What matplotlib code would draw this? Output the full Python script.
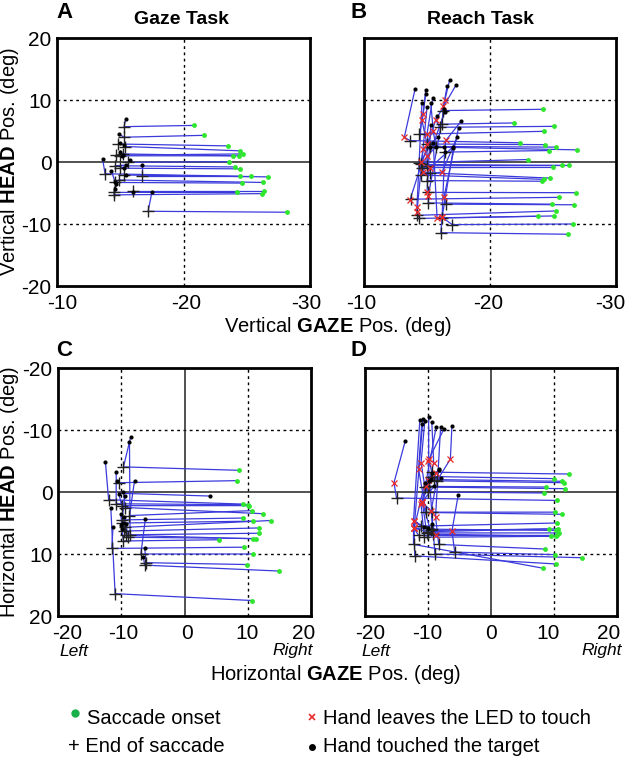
import matplotlib
matplotlib.use('Agg')
import matplotlib.pyplot as plt
from matplotlib.lines import Line2D
from matplotlib.transforms import ScaledTranslation

plt.rcParams['font.family'] = ['Liberation Sans', 'DejaVu Sans']
plt.rcParams['mathtext.fontset'] = 'custom'
plt.rcParams['mathtext.rm'] = 'Liberation Sans'
plt.rcParams['mathtext.bf'] = 'Liberation Sans:bold'
plt.rcParams['axes.unicode_minus'] = False

# ---------------- Panel A : Gaze task (vertical) ----------------
a_on_x = [-20.8, -21.6, -23.5, -24.5, -24.7, -24.4, -23.9, -23.6, -24.1, -24.5,
          -24.5, -25.3, -26.7, -24.6, -26.3, -24.2, -26.4, -26.2, -28.2]
a_on_y = [5.9, 4.3, 2.6, 1.8, 1.3, 1.0, 1.0, 0.05, -0.8, -1.1,
          -2.3, -2.2, -2.4, -3.4, -3.3, -4.9, -4.6, -5.1, -8.1]
a_end_x = [-15.3, -15.3, -14.85, -15.4, -14.7, -15.2, -15.0, -15.6, -14.6, -15.0,
           -13.8, -16.7, -15.3, -14.6, -14.9, -14.5, -16.0, -14.5, -17.2]
a_end_y = [5.7, 4.0, 2.9, 2.5, 1.1, 1.3, 1.0, -0.05, -0.6, -1.0,
           -1.9, -2.2, -2.1, -3.3, -2.9, -4.9, -4.6, -5.3, -7.95]
a_touch_x = [-15.45, -14.9, -15.0, -15.3, -15.1, -15.0, -15.2, -15.8, -15.45, -15.3,
             -13.6, -16.7, -15.45, -14.3, -14.6, -14.7, -16.0, -14.6, -17.5]
a_touch_y = [7.0, 4.5, 3.1, 2.8, 0.97, 1.6, 1.2, 0.3, -0.5, -0.9,
             0.54, -0.5, -2.15, -1.4, -3.3, -3.6, -4.9, -4.3, -4.9]

# ---------------- Panel B : Reach task (vertical) ----------------
b_on_x = [-24.2, -21.9, -25.1, -24.3, -22.4, -24.4, -25.2, -24.7, -26.9, -23.0,
          -26.3, -25.7, -25.0, -24.8, -24.3, -24.1, -26.8, -25.5, -24.9, -26.7,
          -25.2, -25.1, -23.8, -26.6, -26.2]
b_on_y = [8.5, 6.3, 5.75, 4.95, 3.1, 2.8, 2.4, 1.85, 1.96, 0.4,
          -0.56, -0.56, -0.88, -2.6, -2.8, -3.1, -4.95, -5.7, -6.8, -6.9,
          -7.9, -8.7, -8.75, -10.0, -11.65]
b_end_x = [-16.3, -16.2, -16.0, -14.4, -13.65, -15.0, -15.2, -16.4, -15.7, -14.4,
           -14.5, -15.0, -14.6, -15.2, -14.5, -15.0, -15.1, -13.7, -15.1, -16.5,
           -14.2, -14.4, -16.2, -17.0, -16.1]
b_end_y = [8.3, 6.1, 5.6, 4.5, 3.45, 2.9, 2.5, 1.6, 2.4, -0.1,
           -0.4, -0.6, -0.9, -1.75, -2.1, -3.0, -4.9, -6.0, -6.6, -6.8,
           -8.6, -9.1, -9.0, -10.1, -11.4]
b_leave_x = [-16.4, -16.3, -15.7, -14.7, -13.2, -14.6, -15.0, -16.5, -15.5, -14.5,
             -14.7, -15.0, -15.0, -14.7, -16.2, -15.2, -15.0, -13.65, -15.1, -16.35,
             -14.2, -14.2, -15.8, -16.2, -16.2]
b_leave_y = [10.0, 9.0, 6.8, 7.7, 4.0, 6.7, 4.5, 3.5, 5.0, 0.0,
             2.1, 2.9, 1.0, -1.6, -1.6, -1.0, -4.85, -6.1, -5.5, -5.65,
             -7.3, -8.1, -9.0, -8.9, -8.9]
b_touch_x = [-16.6, -16.8, -17.3, -14.9, -14.05, -14.9, -15.45, -17.7, -15.3, -15.2,
             -15.9, -16.35, -15.7, -16.4, -17.4, -17.1, -15.3, -15.8, -16.35, -17.5,
             -14.6, -15.0, -15.5, -17.1, -16.4]
b_touch_y = [12.3, 13.25, 12.4, 11.6, 11.75, 10.95, 10.25, 6.55, 9.45, 2.5,
             4.0, 2.4, 2.4, 8.0, 4.0, 2.5, 6.0, 7.5, 8.5, 5.5,
             9.5, 8.8, 3.0, 2.3, 1.6]

# ---------------- Panel C : Gaze task (horizontal) ----------------
c_on_x = [8.55, 8.3, 9.3, 10.0, 10.2, 10.7, 12.4, 9.3, 13.6, 10.8,
          11.7, 11.8, 5.5, 10.9, 11.3, 9.45, 10.9, 9.9, 15.0, 10.6]
c_on_y = [-3.5, -1.83, 1.95, 2.05, 2.2, 3.0, 3.5, 4.2, 4.6, 4.7,
          5.8, 6.65, 7.7, 7.5, 7.55, 8.9, 10.0, 11.7, 12.75, 17.5]
c_end_x = [-9.65, -10.4, -12.0, -10.8, -9.9, -8.7, -9.4, -9.9, -9.4, -9.9,
           -9.6, -8.6, -9.65, -9.0, -9.2, -11.5, -6.9, -6.06, -6.3, -10.97]
c_end_y = [-4.05, -1.5, 1.25, 1.9, 2.2, 3.8, 2.5, 4.5, 5.7, 5.0,
           6.3, 6.9, 7.9, 7.3, 7.0, 9.1, 10.0, 11.4, 11.8, 16.4]
c_touch_x = [-8.5, -10.7, -12.5, -10.8, -10.4, -7.9, -9.65, -9.4, -10.1, -10.1,
             -9.8, -8.7, -9.9, -9.2, -9.5, -11.3, -6.2, -6.3, -6.5, -11.65]
c_touch_y = [-8.9, -1.83, -4.8, -3.2, 0.27, -1.83, 0.05, 0.6, 5.3, 3.5,
             5.0, -8.0, 6.0, 5.2, 4.0, 5.7, 4.4, 9.0, 10.5, 2.6]
c_extra_x = [-10.4, 4.0]
c_extra_y = [0.2, 0.65]

# ---------------- Panel D : Reach task (horizontal) ----------------
d_on_x = [12.35, 10.0, 11.2, 11.6, 8.7, 11.7, 8.4, 10.55, 10.1, 11.3,
          10.4, 10.7, 10.3, 9.2, 10.5, 9.5, 10.3, 10.8, 8.55, 10.1,
          14.45, 10.25, 8.3]
d_on_y = [-2.9, -2.16, -1.73, -1.5, -0.8, -0.54, 0.16, 1.36, 3.25, 3.6,
          5.0, 5.95, 6.2, 5.95, 7.0, 7.15, 7.15, 6.6, 9.2, 10.1,
          10.6, 11.6, 12.3]
d_end_x = [-9.4, -9.6, -9.0, -8.6, -9.9, -10.5, -10.0, -15.0, -9.4, -10.3,
           -11.1, -9.6, -9.3, -10.0, -11.5, -10.6, -9.2, -10.2, -8.3, -5.76,
           -8.9, -12.1, -12.3]
d_end_y = [-3.2, -2.5, -2.0, -1.8, -0.9, -0.8, 0.0, 0.97, 3.25, 3.3,
           5.5, 6.2, 6.0, 6.4, 7.0, 7.3, 6.8, 6.6, 8.45, 9.7,
           10.0, 10.3, 8.45]
d_leave_x = [-9.9, -9.1, -8.8, -6.45, -10.0, -11.1, -10.3, -15.4, -10.9, -11.5,
             -12.3, -10.9, -8.8, -12.2, -12.2, -11.1, -9.5, -10.9, -8.8, -6.2,
             -10.0, -12.2, -12.3]
d_leave_y = [-5.4, -4.75, -3.0, -5.3, -2.0, -4.75, -1.0, -1.5, 1.6, -3.7,
             4.6, 1.6, 6.9, 5.85, 5.85, 2.0, 3.0, 1.6, 4.0, 6.3,
             -5.0, 5.85, 4.6]
d_touch_x = [-9.9, -9.4, -8.2, -6.2, -7.9, -10.5, -9.6, -13.6, -8.7, -11.0,
             -10.7, -9.0, -9.3, -10.0, -10.5, -9.3, -8.3, -9.8, -8.0, -5.2,
             -7.5, -10.8, -11.3]
d_touch_y = [-12.15, -11.3, -3.7, -10.7, -2.3, -11.5, -2.16, -8.27, -10.5, -10.9,
             5.6, -1.0, 5.1, 5.8, -1.5, -3.0, -3.5, -1.8, -10.5, 0.45,
             -10.1, -11.8, -11.6]

BLUE = '#3b3bdc'
GREEN = '#2ee62e'
RED = '#e82a2a'

W, H = 625, 763
fig = plt.figure(figsize=(W / 100, H / 100), dpi=100)


def fx(x):
    return x / W


def fy(y):
    return 1 - y / H


def add_ax(l, t, r, b):
    return fig.add_axes([fx(l), fy(b), fx(r) - fx(l), fy(t) - fy(b)])


def draw_traces(ax, on_x, on_y, end_x, end_y, touch_x, touch_y,
                leave_x=None, leave_y=None):
    n = len(on_x)
    for i in range(n):
        xs = [on_x[i], end_x[i]]
        ys = [on_y[i], end_y[i]]
        if leave_x is not None:
            xs.append(leave_x[i])
            ys.append(leave_y[i])
        xs.append(touch_x[i])
        ys.append(touch_y[i])
        ax.plot(xs, ys, color=BLUE, lw=0.9, zorder=3)
    ax.plot(end_x, end_y, ls='none', marker='+', color='#222222',
            ms=8, mew=1.0, zorder=5)
    if leave_x is not None:
        ax.plot(leave_x, leave_y, ls='none', marker='x', color=RED,
                ms=4, mew=0.9, zorder=6)
    ax.plot(touch_x, touch_y, ls='none', marker='o', color='black',
            ms=3, mew=0, zorder=6)
    ax.plot(on_x, on_y, ls='none', marker='o', color=GREEN,
            ms=3.5, mew=0, zorder=6)


def style(ax, vertical, show_y, xshift):
    for s in ax.spines.values():
        s.set_linewidth(2.0)
    ax.tick_params(length=0, labelsize=15, pad=6)
    ax.tick_params(axis='y', pad=4)
    dots = dict(color='black', lw=1.0, ls=(0, (2, 2.5)), zorder=1)
    if vertical:
        ax.set_xlim(-10, -30)
        ax.set_ylim(-20, 20)
        ax.set_xticks([-10, -20, -30])
        ax.set_yticks([-20, -10, 0, 10, 20])
        ax.axhline(10, **dots)
        ax.axhline(-10, **dots)
        ax.axvline(-20, **dots)
        ax.axhline(0, color='#222222', lw=1.1, zorder=1)
    else:
        ax.set_xlim(-20, 20)
        ax.set_ylim(20, -20)
        ax.set_xticks([-20, -10, 0, 10, 20])
        ax.set_yticks([-20, -10, 0, 10, 20])
        for v in (-10, 10):
            ax.axhline(v, **dots)
            ax.axvline(v, **dots)
        ax.axhline(0, color='#222222', lw=1.1, zorder=1)
        ax.axvline(0, color='#222222', lw=1.1, zorder=1)
    if not show_y:
        ax.set_yticklabels([])
    # small manual offsets of tick labels as in the assembled figure
    for lab, dx in zip(ax.get_xticklabels(), xshift):
        lab.set_transform(lab.get_transform() +
                          ScaledTranslation(dx / 100, 0, fig.dpi_scale_trans))


axA = add_ax(57, 38, 310, 286)
axB = add_ax(364, 38, 616, 286)
axC = add_ax(58, 368, 311, 616)
axD = add_ax(365, 368, 617, 616)

style(axA, True, True, [5, 3, -4])
style(axB, True, False, [-3, -2, -6])
style(axC, False, True, [9, 2, 2, -1, -7])
style(axD, False, False, [5, -1, 0, -6, -8])

draw_traces(axA, a_on_x, a_on_y, a_end_x, a_end_y, a_touch_x, a_touch_y)
draw_traces(axB, b_on_x, b_on_y, b_end_x, b_end_y, b_touch_x, b_touch_y,
            b_leave_x, b_leave_y)
draw_traces(axC, c_on_x, c_on_y, c_end_x, c_end_y, c_touch_x, c_touch_y)
axC.plot(c_extra_x, c_extra_y, color=BLUE, lw=0.9, zorder=3)
axC.plot(c_extra_x[-1:], c_extra_y[-1:], ls='none', marker='o',
         color='black', ms=3, mew=0, zorder=6)
draw_traces(axD, d_on_x, d_on_y, d_end_x, d_end_y, d_touch_x, d_touch_y,
            d_leave_x, d_leave_y)

# Panel letters and titles
fig.text(fx(56), fy(13), 'A', fontsize=16, weight='bold', ha='left', va='center')
fig.text(fx(181), fy(19), 'Gaze Task', fontsize=14, weight='bold', ha='center', va='center')
fig.text(fx(351), fy(13), 'B', fontsize=16, weight='bold', ha='left', va='center')
fig.text(fx(480), fy(19), 'Reach Task', fontsize=14, weight='bold', ha='center', va='center')
fig.text(fx(56), fy(350), 'C', fontsize=16, weight='bold', ha='left', va='center')
fig.text(fx(351), fy(350), 'D', fontsize=16, weight='bold', ha='left', va='center')

# Axis labels
fig.text(fx(10), fy(162), r'Vertical $\mathbf{HEAD}$ Pos. (deg)', fontsize=14.5,
         rotation=90, ha='center', va='center')
fig.text(fx(10), fy(492), r'Horizontal $\mathbf{HEAD}$ Pos. (deg)', fontsize=14.5,
         rotation=90, ha='center', va='center')
fig.text(fx(338), fy(326), r'Vertical $\mathbf{GAZE}$ Pos. (deg)', fontsize=14.5,
         ha='center', va='center')
fig.text(fx(336), fy(675), r'Horizontal $\mathbf{GAZE}$ Pos. (deg)', fontsize=14.5,
         ha='center', va='center')

# Left / Right
for (x, t) in [(74, 'Left'), (293, 'Right'), (376, 'Left'), (602, 'Right')]:
    fig.text(fx(x), fy(651), t, fontsize=12.5, style='italic', ha='center', va='center')

# Legend
fig.add_artist(Line2D([fx(75)], [fy(713)], marker='o', color='#17b04a', ms=6, mew=0, ls='none'))
fig.text(fx(87), fy(718), 'Saccade onset', fontsize=14.5, ha='left', va='center')
fig.text(fx(68), fy(747), '+ End of saccade', fontsize=14.5, ha='left', va='center')
fig.add_artist(Line2D([fx(312)], [fy(717)], marker='x', color=RED, ms=5, mew=1.2, ls='none'))
fig.text(fx(323), fy(718), 'Hand leaves the LED to touch', fontsize=14.5, ha='left', va='center')
fig.add_artist(Line2D([fx(312)], [fy(747)], marker='o', color='black', ms=5, mew=0, ls='none'))
fig.text(fx(323), fy(747), 'Hand touched the target', fontsize=14.5, ha='left', va='center')

fig.savefig('out.png', dpi=100)
